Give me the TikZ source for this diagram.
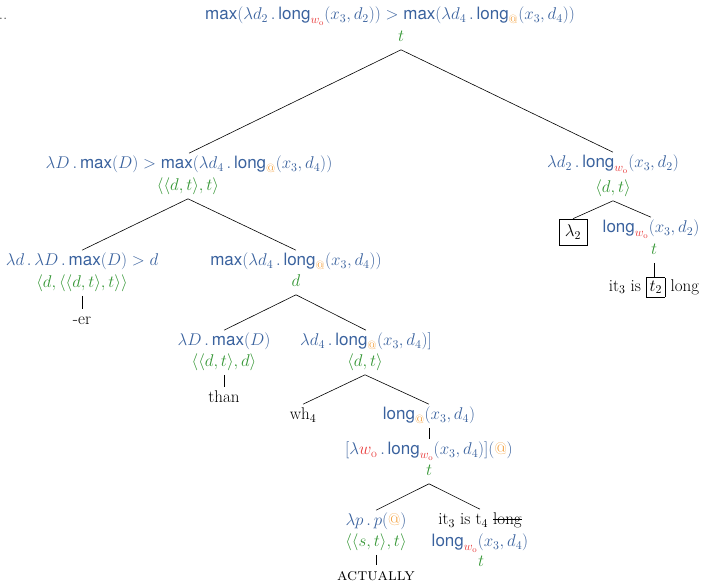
\RequirePackage{fix-cm}
\documentclass[tikz,border=0pt]{standalone}
\usepackage{fontspec}
\newfontfamily\helv{TeX Gyre Heros}
\definecolor{semblue}{RGB}{58,98,158}
\definecolor{typgreen}{RGB}{52,150,52}
\definecolor{wred}{RGB}{232,58,58}
\definecolor{atorange}{RGB}{242,150,40}
\newcommand{\treefont}{\fontsize{17}{20}\selectfont}
\newcommand{\opn}[1]{\mbox{\helv #1}}
\newcommand{\ldot}{\,.\,}
\newcommand{\wo}{\textcolor{wred}{w_{\mathrm{o}}}}
\newcommand{\at}{\textcolor{atorange}{@}}
\newlength{\strikelen}
\newcommand{\strike}[1]{\settowidth{\strikelen}{#1}\rlap{\rule[0.27em]{\strikelen}{0.7pt}}#1}
\begin{document}
\begin{tikzpicture}[x=1pt,y=-1pt,
    base/.style={font=\treefont, inner sep=1pt, text height=14pt, text depth=7pt},
    sem/.style={base, text=semblue},
    typ/.style={base, text=typgreen},
    word/.style={base, text=black},
    box/.style={draw, font=\treefont, inner sep=2pt, minimum width=28pt, minimum height=26pt},
    line width=0.6pt]
    \useasboundingbox (0,0) rectangle (701,584);
    \node[word, text=darkgray] (dots) at (3,16) {..};
    % root
    \node[sem] (top) at (390,16) {$\opn{max}(\lambda d_2\ldot\opn{long}_{\wo}(x_3,d_2)) > \opn{max}(\lambda d_4\ldot\opn{long}_{\at}(x_3,d_4))$};
    \node[typ] (top-t) at (401,38) {$t$};
    % left branch
    \node[sem] (cmp) at (189,165) {$\lambda D\ldot\opn{max}(D) > \opn{max}(\lambda d_4\ldot\opn{long}_{\at}(x_3,d_4))$};
    \node[typ] (cmp-t) at (188,187) {$\langle\langle d,t\rangle,t\rangle$};
    \node[sem] (er) at (82,262) {$\lambda d\ldot\lambda D\ldot\opn{max}(D) > d$};
    \node[typ] (er-t) at (82,284) {$\langle d,\langle\langle d,t\rangle,t\rangle\rangle$};
    \node[word] (er-w) at (82,321) {-er};
    \node[sem] (mx) at (296,262) {$\opn{max}(\lambda d_4\ldot\opn{long}_{\at}(x_3,d_4))$};
    \node[typ] (mx-t) at (296,283) {$d$};
    \node[sem] (than) at (224,342) {$\lambda D\ldot\opn{max}(D)$};
    \node[typ] (than-t) at (224,363) {$\langle\langle d,t\rangle,d\rangle$};
    \node[word] (than-w) at (224,399) {than};
    \node[sem] (wh) at (366,342) {$\lambda d_4\ldot\opn{long}_{\at}(x_3,d_4)]$};
    \node[typ] (wh-t) at (365,363) {$\langle d,t\rangle$};
    \node[word] (wh-w) at (303,416) {wh$_4$};
    \node[sem] (lat) at (429,416) {$\opn{long}_{\at}(x_3,d_4)$};
    \node[sem] (app) at (429,451) {$[\lambda\wo\ldot\opn{long}_{\wo}(x_3,d_4)](\at)$};
    \node[typ] (app-t) at (429,472) {$t$};
    \node[sem] (act) at (376,522) {$\lambda p\ldot p(\at)$};
    \node[typ] (act-t) at (376,543) {$\langle\langle s,t\rangle,t\rangle$};
    \node[word] (act-w) at (376,577) {\textsc{actually}};
    \node[word] (it4) at (480,521) {it$_3$ is t$_4$ \strike{long}};
    \node[sem] (lwo) at (480,543) {$\opn{long}_{\wo}(x_3,d_4)$};
    \node[typ] (lwo-t) at (481,563) {$t$};
    % right branch
    \node[sem] (abs) at (613,164) {$\lambda d_2\ldot\opn{long}_{\wo}(x_3,d_2)$};
    \node[typ] (abs-t) at (613,189) {$\langle d,t\rangle$};
    \node[box] (lam) at (573,232) {$\lambda_2$};
    \node[sem] (lwo2) at (651,229) {$\opn{long}_{\wo}(x_3,d_2)$};
    \node[typ] (lwo2-t) at (654,251) {$t$};
    \node[font=\treefont, inner sep=0pt, anchor=north] (it2) at (654,277) {it$_3$ is \setlength{\fboxsep}{3pt}\fbox{$t_2$} long};
    % branches
    \draw (top-t.south) -- (cmp.north);
    \draw (top-t.south) -- (abs.north);
    \draw (cmp-t.south) -- (er.north);
    \draw (cmp-t.south) -- (mx.north);
    \draw (er-t.south) -- (er-w.north);
    \draw (mx-t.south) -- (than.north);
    \draw (mx-t.south) -- (wh.north);
    \draw (than-t.south) -- (than-w.north);
    \draw (wh-t.south) -- (wh-w.north);
    \draw (wh-t.south) -- (lat.north);
    \draw (lat.south) -- (app.north);
    \draw (app-t.south) -- (act.north);
    \draw (app-t.south) -- (it4.north);
    \draw (act-t.south) -- (act-w.north);
    \draw (abs-t.south) -- (lam.north);
    \draw (abs-t.south) -- (lwo2.north);
    \draw (lwo2-t.south) -- (it2.north);
\end{tikzpicture}
\end{document}
